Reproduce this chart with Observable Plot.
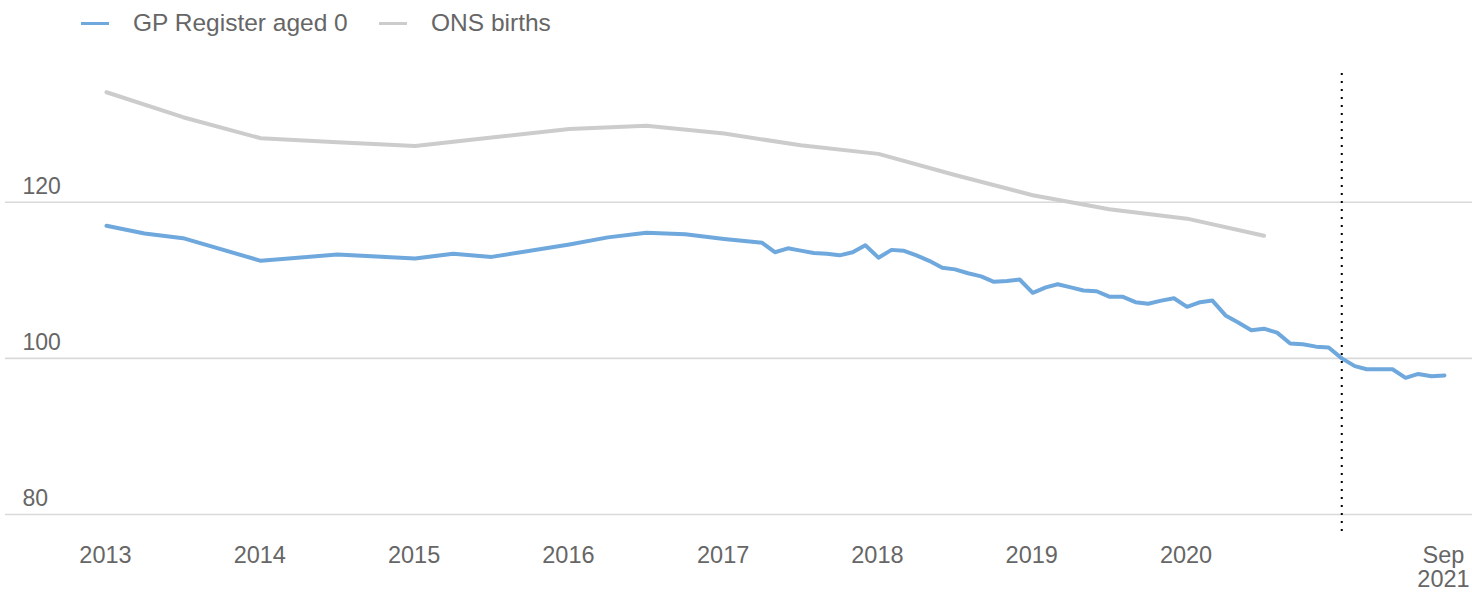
<!DOCTYPE html>
<html>
<head>
<meta charset="utf-8">
<script src="https://cdn.jsdelivr.net/npm/d3@7"></script>
<script src="https://cdn.jsdelivr.net/npm/@observablehq/plot@0.6"></script>
<style>
  html, body { margin: 0; padding: 0; background: #fff; }
  body { width: 1472px; height: 595px; overflow: hidden; font-family: "Liberation Sans", Arial, sans-serif; }
  #legend { position: relative; height: 45px; }
  .sw { position: absolute; top: 22px; width: 28px; height: 3px; }
  .lt { position: absolute; top: 8px; font-size: 24.5px; line-height: 30px; color: #666; white-space: nowrap; }
  #chart svg { display: block; }
</style>
</head>
<body>
<div id="legend"></div>
<div id="chart"></div>
<script>
// ---- Data ----
const seriesNames = ["GP Register aged 0", "ONS births"];
const seriesColors = ["#6fa8dc", "#cccccc"];

const gpDates = [
  "2013-01","2013-04","2013-07","2014-01","2014-07","2015-01","2015-04","2015-07",
  "2016-01","2016-04","2016-07","2016-10","2017-01","2017-04","2017-05","2017-06",
  "2017-07","2017-08","2017-09","2017-10","2017-11","2017-12","2018-01","2018-02",
  "2018-03","2018-04","2018-05","2018-06","2018-07","2018-08","2018-09","2018-10",
  "2018-11","2018-12","2019-01","2019-02","2019-03","2019-04","2019-05","2019-06",
  "2019-07","2019-08","2019-09","2019-10","2019-11","2019-12","2020-01","2020-02",
  "2020-03","2020-04","2020-05","2020-06","2020-07","2020-08","2020-09","2020-10",
  "2020-11","2020-12","2021-01","2021-02","2021-03","2021-04","2021-05","2021-06",
  "2021-07","2021-08","2021-09"
];
const gpValues = [
  117.0,116.0,115.4,112.5,113.3,112.8,113.4,113.0,
  114.6,115.5,116.1,115.9,115.3,114.8,113.6,114.1,
  113.8,113.5,113.4,113.2,113.6,114.5,112.9,113.9,
  113.8,113.2,112.5,111.6,111.4,110.9,110.5,109.8,
  109.9,110.1,108.4,109.1,109.5,109.1,108.7,108.6,
  107.9,107.9,107.2,107.0,107.4,107.7,106.6,107.2,
  107.4,105.5,104.6,103.6,103.8,103.3,101.9,101.8,
  101.5,101.4,100.0,99.0,98.6,98.6,98.6,97.5,
  98.0,97.7,97.8
];

const onsDates = [
  "2013-01","2013-07","2014-01","2014-07","2015-01","2015-07","2016-01","2016-07",
  "2017-01","2017-07","2018-01","2018-07","2019-01","2019-07","2020-01","2020-07"
];
const onsValues = [
  134.1,130.9,128.2,127.7,127.2,128.3,129.4,129.8,
  128.8,127.3,126.2,123.5,120.9,119.1,117.9,115.7
];

const yTicks = [80, 100, 120];
const xTickDates = ["2013-01","2014-01","2015-01","2016-01","2017-01","2018-01","2019-01","2020-01","2021-09"];
const xTickLabels = ["2013","2014","2015","2016","2017","2018","2019","2020","Sep\n2021"];
const markerDates = ["2021-01"];
const xDomain = ["2013-01", "2021-09"];
const yDomain = [77.3, 136.5];

// ---- Build ----
const parse = d3.utcParse("%Y-%m");
const gp = gpDates.map((d, i) => ({date: parse(d), value: gpValues[i]}));
const ons = onsDates.map((d, i) => ({date: parse(d), value: onsValues[i]}));
const xTicksData = xTickDates.map((d, i) => ({date: parse(d), label: xTickLabels[i]}));

// Legend
const legend = document.getElementById("legend");
const legendPos = [[81, 133], [379, 431]];
seriesNames.forEach((name, i) => {
  const sw = document.createElement("div");
  sw.className = "sw";
  sw.style.left = legendPos[i][0] + "px";
  sw.style.background = seriesColors[i];
  legend.appendChild(sw);
  const t = document.createElement("div");
  t.className = "lt";
  t.style.left = legendPos[i][1] + "px";
  t.textContent = name;
  legend.appendChild(t);
});

const chart = Plot.plot({
  width: 1472,
  height: 550,
  marginLeft: 106,
  marginRight: 28,
  marginTop: 28,
  marginBottom: 60,
  x: {type: "utc", domain: xDomain.map(parse), axis: null},
  y: {domain: yDomain, axis: null},
  style: {fontFamily: "'Liberation Sans', Arial, sans-serif", background: "white", overflow: "visible"},
  marks: [
    Plot.ruleY(yTicks, {stroke: "#d9d9d9", strokeWidth: 1.6, insetLeft: -101, insetRight: -28}),
    Plot.text(yTicks, {y: d => d, text: d => String(d), frameAnchor: "left", textAnchor: "start", dx: -84, dy: -16, fontSize: 23, fill: "#666"}),
    Plot.text(xTicksData, {x: "date", text: "label", frameAnchor: "bottom", lineAnchor: "top", lineHeight: 1.0, dy: 11, dx: -1, fontSize: 23.5, fill: "#666"}),
    Plot.line(ons, {x: "date", y: "value", stroke: seriesColors[1], strokeWidth: 4}),
    Plot.line(gp, {x: "date", y: "value", stroke: seriesColors[0], strokeWidth: 4}),
    Plot.ruleX(markerDates.map(parse), {stroke: "#000", strokeWidth: 2, strokeDasharray: "2,6"})
  ]
});
document.getElementById("chart").appendChild(chart);
</script>
</body>
</html>
